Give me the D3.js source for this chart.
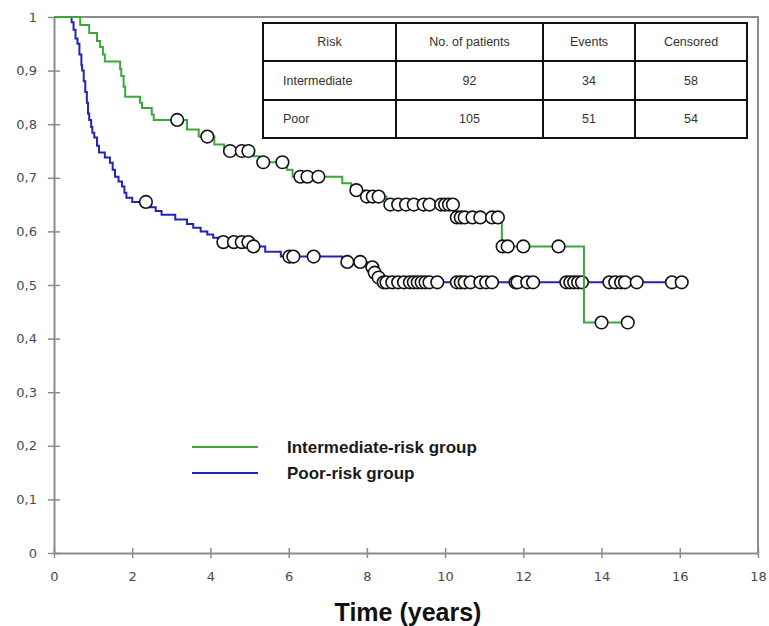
<!DOCTYPE html>
<html>
<head>
<meta charset="utf-8">
<script src="https://cdn.jsdelivr.net/npm/d3@7"></script>
<style>
  body { margin: 0; background: #fff; }
  svg { display: block; }
</style>
</head>
<body>
<svg id="chart" width="769" height="626"></svg>
<script>
// Kaplan-Meier steps: [time in years, survival after the step]
const intermediateSteps = [
    [0.67, 0.985], [0.9, 0.97], [1.1, 0.955], [1.18, 0.944], [1.25, 0.93], [1.3, 0.917],
    [1.69, 0.903], [1.72, 0.89], [1.78, 0.87], [1.82, 0.851], [2.2, 0.84], [2.25, 0.83],
    [2.5, 0.818], [2.55, 0.808], [3.4, 0.79], [3.7, 0.777], [4.1, 0.762], [4.35, 0.75],
    [5.1, 0.74], [5.25, 0.729], [5.96, 0.715], [6.1, 0.702], [7.37, 0.69], [7.6, 0.677],
    [7.95, 0.665], [8.5, 0.65], [10.25, 0.626], [11.45, 0.572], [13.55, 0.43]
];
const intermediateCensored = [
    3.15, 3.92, 4.5, 4.8, 4.97, 5.35, 5.84, 6.3, 6.48, 6.76, 7.73, 8.0, 8.15, 8.3,
    8.6, 8.8, 9.0, 9.2, 9.45, 9.6, 9.9, 10.0, 10.1, 10.2,
    10.3, 10.4, 10.5, 10.7, 10.9, 11.2, 11.35, 11.47, 11.6, 12.0, 12.9, 14.0, 14.67
];
const intermediateEnd = 14.67;

const poorSteps = [
    [0.45, 0.99], [0.5, 0.976], [0.55, 0.96], [0.6, 0.95], [0.65, 0.93], [0.7, 0.91],
    [0.72, 0.9], [0.76, 0.88], [0.8, 0.86], [0.84, 0.84], [0.87, 0.82], [0.9, 0.808],
    [0.95, 0.795], [0.98, 0.784], [1.03, 0.775], [1.1, 0.76], [1.15, 0.747], [1.3, 0.738],
    [1.43, 0.728], [1.5, 0.715], [1.56, 0.702], [1.65, 0.693], [1.74, 0.684], [1.8, 0.672],
    [1.85, 0.663], [2.0, 0.655], [2.45, 0.645], [2.6, 0.638], [2.75, 0.631], [3.1, 0.622],
    [3.4, 0.614], [3.56, 0.607], [3.75, 0.6], [3.92, 0.594], [4.07, 0.588], [4.25, 0.58],
    [5.05, 0.572], [5.4, 0.562], [5.8, 0.553], [7.37, 0.543], [8.0, 0.533], [8.18, 0.523],
    [8.28, 0.514], [8.4, 0.505]
];
const poorCensored = [
    2.35, 4.33, 4.6, 4.8, 4.97, 5.1, 6.02, 6.12, 6.64, 7.5, 7.83, 8.14, 8.2, 8.3, 8.43,
    8.5, 8.65, 8.8, 8.95, 9.1, 9.2, 9.3, 9.4, 9.5, 9.6, 9.8, 10.3, 10.4, 10.5, 10.65,
    10.9, 11.05, 11.2, 11.8, 11.85, 12.1, 12.25, 13.1, 13.2, 13.3, 13.4, 13.5,
    14.2, 14.35, 14.5, 14.6, 14.9, 15.8, 16.05
];
const poorEnd = 16.05;

const xTicks = [0, 2, 4, 6, 8, 10, 12, 14, 16, 18];
const yTicks = [0, 0.1, 0.2, 0.3, 0.4, 0.5, 0.6, 0.7, 0.8, 0.9, 1];

const tableHeader = ["Risk", "No. of patients", "Events", "Censored"];
const tableRows = [
    ["Intermediate", "92", "34", "58"],
    ["Poor", "105", "51", "54"]
];

const legendLabels = ["Intermediate-risk group", "Poor-risk group"];

const GREEN = "#3aa83a";
const BLUE = "#2323b8";
const AXIS_GRAY = "#8c8c8c";

const svg = d3.select("#chart");
const plot = { left: 54, right: 758, top: 17, bottom: 553 };

const x = d3.scaleLinear().domain([0, 18]).range([plot.left, plot.right]);
const y = d3.scaleLinear().domain([0, 1]).range([plot.bottom, plot.top]);

// frame: top and right borders
svg.append("path")
    .attr("d", `M${plot.left},${plot.top}H${plot.right}V${plot.bottom}`)
    .attr("fill", "none")
    .attr("stroke", AXIS_GRAY)
    .attr("stroke-width", 2);

// axes, with ticks crossing the line
const xAxis = svg.append("g")
    .attr("transform", `translate(0,${plot.bottom})`)
    .call(d3.axisBottom(x).tickValues(xTicks).tickSize(0).tickPadding(19)
        .tickFormat(d3.format("d")));
xAxis.select(".domain").attr("stroke", AXIS_GRAY).attr("stroke-width", 2);
xAxis.selectAll(".tick").append("line")
    .attr("y1", -5).attr("y2", 5)
    .attr("stroke", AXIS_GRAY).attr("stroke-width", 1.5);

const yAxis = svg.append("g")
    .attr("transform", `translate(${plot.left},0)`)
    .call(d3.axisLeft(y).tickValues(yTicks).tickSize(0).tickPadding(17)
        .tickFormat((d) => d === 0 || d === 1 ? String(d) : String(d).replace(".", ",")));
yAxis.select(".domain").attr("stroke", AXIS_GRAY).attr("stroke-width", 2);
yAxis.selectAll(".tick").append("line")
    .attr("x1", -6).attr("x2", 6)
    .attr("stroke", AXIS_GRAY).attr("stroke-width", 1.5);

svg.selectAll(".tick text")
    .attr("fill", "#4a4a4a")
    .style("font-family", "'DejaVu Sans', Verdana, sans-serif")
    .style("font-size", "13px");

svg.append("text")
    .attr("x", 408)
    .attr("y", 621)
    .attr("text-anchor", "middle")
    .style("font-family", "'Liberation Sans Narrow', 'Liberation Sans', Arial, sans-serif")
    .style("font-weight", "bold")
    .style("font-size", "25px")
    .attr("fill", "#111")
    .text("Time (years)");

// survival curves
const stepLine = d3.line()
    .x((d) => x(d[0]))
    .y((d) => y(d[1]))
    .curve(d3.curveStepAfter);

function survivalAt(steps, t) {
    let s = 1;
    steps.forEach((p) => { if (p[0] <= t) s = p[1]; });
    return s;
}

function drawGroup(steps, censored, end, color) {
    const pts = [[0, 1]].concat(steps, [[end, steps[steps.length - 1][1]]]);
    svg.append("path")
        .datum(pts)
        .attr("d", stepLine)
        .attr("fill", "none")
        .attr("stroke", color)
        .attr("stroke-width", 2);

    svg.append("g")
        .selectAll("circle")
        .data(censored)
        .enter().append("circle")
            .attr("cx", (t) => x(t))
            .attr("cy", (t) => y(survivalAt(steps, t)))
            .attr("r", 6.3)
            .attr("fill", "#fff")
            .attr("stroke", "#111")
            .attr("stroke-width", 1.6);
}

drawGroup(poorSteps, poorCensored, poorEnd, BLUE);
drawGroup(intermediateSteps, intermediateCensored, intermediateEnd, GREEN);

// table
const colEdges = [263, 396, 543, 635, 747];
const rowEdges = [23, 61, 100, 138];
const table = svg.append("g").attr("class", "table");

table.append("rect")
    .attr("x", colEdges[0]).attr("y", rowEdges[0])
    .attr("width", colEdges[4] - colEdges[0])
    .attr("height", rowEdges[3] - rowEdges[0])
    .attr("fill", "#fff")
    .attr("stroke", "#111")
    .attr("stroke-width", 2);

colEdges.slice(1, -1).forEach((cx) => {
    table.append("line")
        .attr("x1", cx).attr("x2", cx)
        .attr("y1", rowEdges[0]).attr("y2", rowEdges[3])
        .attr("stroke", "#111").attr("stroke-width", 2);
});
rowEdges.slice(1, -1).forEach((ry) => {
    table.append("line")
        .attr("x1", colEdges[0]).attr("x2", colEdges[4])
        .attr("y1", ry).attr("y2", ry)
        .attr("stroke", "#111").attr("stroke-width", 2);
});

const allRows = [tableHeader].concat(tableRows);
allRows.forEach((row, ri) => {
    const cy = (rowEdges[ri] + rowEdges[ri + 1]) / 2;
    row.forEach((cell, ci) => {
        const leftCell = ri > 0 && ci === 0;
        table.append("text")
            .attr("x", leftCell ? colEdges[0] + 20 : (colEdges[ci] + colEdges[ci + 1]) / 2)
            .attr("y", cy)
            .attr("dy", "0.35em")
            .attr("text-anchor", leftCell ? "start" : "middle")
            .attr("fill", "#333")
            .style("font-family", "'Liberation Sans', Arial, sans-serif")
            .style("font-size", "12.5px")
            .text(cell);
    });
});

// legend
const legend = svg.append("g").attr("class", "legend");
[GREEN, BLUE].forEach((color, i) => {
    const ly = 447 + i * 26;
    legend.append("line")
        .attr("x1", 192).attr("x2", 258)
        .attr("y1", ly).attr("y2", ly)
        .attr("stroke", color)
        .attr("stroke-width", 2);
    legend.append("text")
        .attr("x", 287)
        .attr("y", ly)
        .attr("dy", "0.35em")
        .attr("fill", "#1a1a1a")
        .style("font-family", "'Liberation Sans', Arial, sans-serif")
        .style("font-weight", "bold")
        .style("font-size", "17px")
        .text(legendLabels[i]);
});
</script>
</body>
</html>
